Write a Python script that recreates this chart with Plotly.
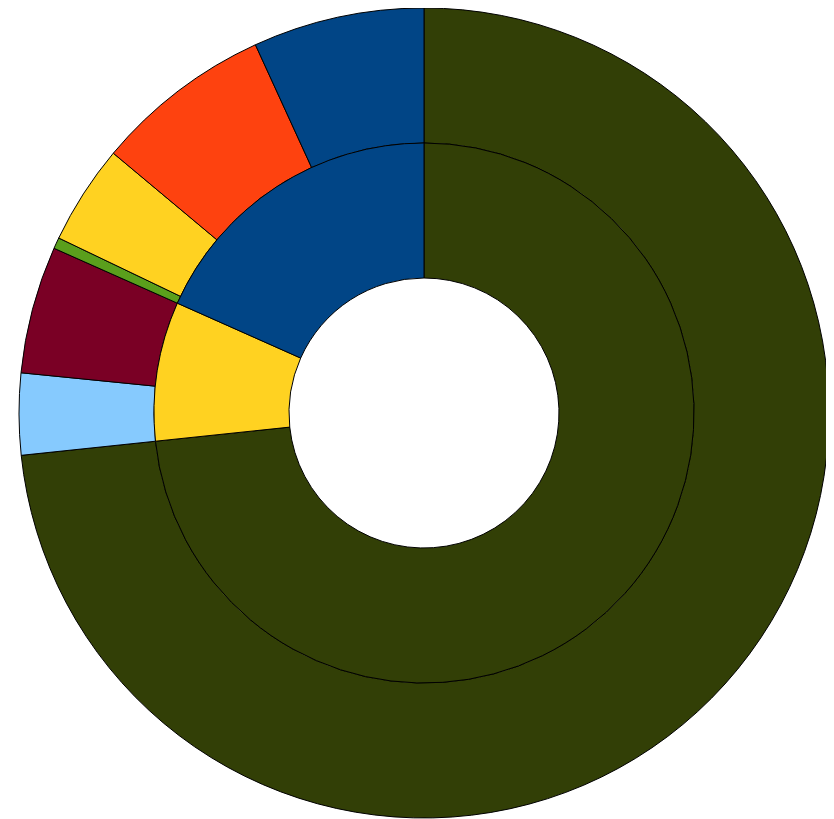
import plotly.graph_objects as go

inner_labels = ["Olive", "Yellow", "Blue"]
inner_values = [264, 30, 66]
inner_colors = ["#323f06", "#ffd221", "#014586"]

outer_labels = ["Olive", "Light blue", "Maroon", "Green", "Yellow", "Orange", "Blue"]
outer_values = [264, 11.7, 18.3, 1.6, 14.3, 25.5, 24.6]
outer_colors = ["#323f06", "#86cafe", "#7a0025", "#5a9f1c", "#ffd221", "#fe420f", "#014586"]

fig = go.Figure()
fig.add_trace(go.Pie(
    labels=outer_labels, values=outer_values, hole=2/3,
    sort=False, direction="clockwise", rotation=0,
    marker=dict(colors=outer_colors, line=dict(color="black", width=1)),
    textinfo="none", domain=dict(x=[0, 1], y=[0, 1]), showlegend=False,
))
fig.add_trace(go.Pie(
    labels=inner_labels, values=inner_values, hole=0.5,
    sort=False, direction="clockwise", rotation=0,
    marker=dict(colors=inner_colors, line=dict(color="black", width=1)),
    textinfo="none", domain=dict(x=[1/6, 5/6], y=[1/6, 5/6]), showlegend=False,
))
fig.update_layout(width=834, height=819, margin=dict(l=11, r=13, t=0, b=9),
                  paper_bgcolor="white", showlegend=False)
fig.write_html("out.html")
